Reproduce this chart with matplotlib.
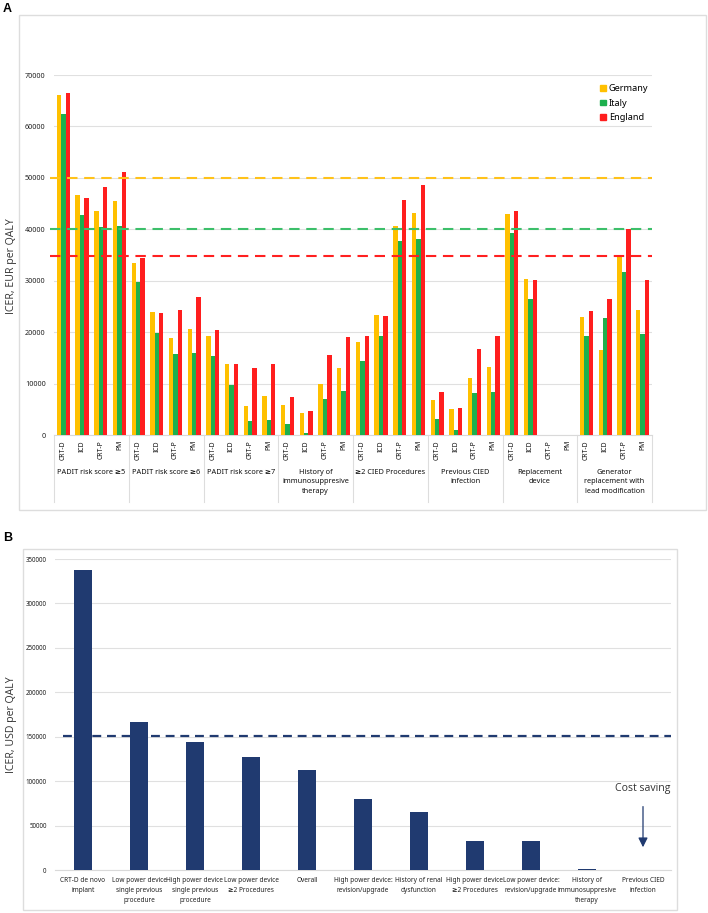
import matplotlib
matplotlib.use('Agg')
import matplotlib.pyplot as plt
import matplotlib.transforms as mtransforms
from matplotlib.patches import Patch, Rectangle
from matplotlib.lines import Line2D
import numpy as np

W, H = 708, 913
BOLD = ['Noto Sans', 'DejaVu Sans']
REG = ['Open Sans', 'DejaVu Sans']

# ---- panel A data (ICER, EUR per QALY) ----
groups = ['PADIT risk score \u22655', 'PADIT risk score \u22656', 'PADIT risk score \u22657',
          'History of\nimmunosuppresive\ntherapy', '\u22652 CIED Procedures',
          'Previous CIED\ninfection', 'Replacement\ndevice',
          'Generator\nreplacement with\nlead modification']
devices = ['CRT-D', 'ICD', 'CRT-P', 'PM']
countries = ['Germany', 'Italy', 'England']
germany = [66100, 46700, 43500, 45500,
           33500, 23900, 18800, 20700,
           19200, 13800, 5700, 7600,
           5800, 4300, 9900, 13100,
           18100, 23300, 40700, 43200,
           6900, 5100, 11100, 13200,
           42900, 30400, 0, 0,
           23000, 16600, 34700, 24400]
italy = [62400, 42800, 40500, 40700,
         29700, 19900, 15800, 16000,
         15400, 9700, 2700, 2900,
         2100, 400, 7000, 8600,
         14400, 19200, 37700, 38200,
         3100, 1000, 8100, 8300,
         39200, 26400, 0, 0,
         19200, 22800, 31700, 19700]
england = [66500, 46100, 48300, 51100,
           34500, 23700, 24300, 26800,
           20500, 13800, 13100, 13800,
           7300, 4700, 15500, 19100,
           19300, 23200, 45700, 48700,
           8300, 5300, 16800, 19300,
           43600, 30100, 0, 0,
           24200, 26500, 40000, 30100]
thresholds_a = [50000, 40000, 34800]
colors_a = ['#FFC000', '#1DB04E', '#FF1E1E']
dash_colors = ['#FFC21A', '#3CBF6A', '#FF2020']

# ---- panel B data (ICER, USD per QALY) ----
b_labels = ['CRT-D de novo\nimplant', 'Low power device\nsingle previous\nprocedure',
            'High power device\nsingle previous\nprocedure', 'Low power device\n\u22652 Procedures',
            'Overall', 'High power device:\nrevision/upgrade', 'History of renal\ndysfunction',
            'High power device\n\u22652 Procedures', 'Low power device:\nrevision/upgrade',
            'History of\nimmunosuppresive\ntherapy', 'Previous CIED\ninfection']
b_values = [337800, 166200, 144500, 127200, 112900, 80100, 65100, 32400, 32400, 1000, 0]
b_threshold = 151000
navy = '#203A70'


def fx(x):
    return x / W


def fy(y):
    return 1 - y / H


fig = plt.figure(figsize=(W / 100, H / 100), dpi=100)

# panel frames and letters
fig.patches.append(Rectangle((fx(19), fy(510)), fx(706) - fx(19), fy(15) - fy(510),
                             transform=fig.transFigure, fill=False, ec='#DDDDDD', lw=1))
fig.patches.append(Rectangle((fx(23), fy(910)), fx(677) - fx(23), fy(549) - fy(910),
                             transform=fig.transFigure, fill=False, ec='#DDDDDD', lw=1))
fig.text(fx(3), fy(9), 'A', fontsize=9, fontweight='bold', family=['Liberation Sans'], va='center')
fig.text(fx(3), fy(538), 'B', fontsize=9, fontweight='bold', family=['Liberation Sans'], va='center')

# ================= panel A =================
ax = fig.add_axes([fx(54), fy(435), fx(652) - fx(54), fy(75) - fy(435)])
n = len(germany)
x = np.arange(n) + 0.5
bw = 0.235
for k, (vals, c) in enumerate(zip([germany, italy, england], colors_a)):
    ax.bar(x + (k - 1) * bw, vals, width=bw, color=c, zorder=3, linewidth=0)

for t, c in zip(thresholds_a, dash_colors):
    ax.plot([-0.2, n], [t, t], ls=(0, (5, 3.2)), color=c, lw=1.5, zorder=4, clip_on=False)

ax.set_xlim(0, n)
ax.set_ylim(0, 70000)
ax.set_yticks(np.arange(0, 70001, 10000))
ax.set_yticklabels([str(v) for v in range(0, 70001, 10000)], fontsize=5.2,
                   fontweight='bold', family=BOLD, color='#222222')
ax.tick_params(axis='y', length=0, pad=6)
ax.set_xticks([])
ax.grid(axis='y', color='#E0E0E0', lw=0.8, zorder=0)
for s in ['top', 'right', 'left']:
    ax.spines[s].set_visible(False)
ax.spines['bottom'].set_color('#D9D9D9')

trA = mtransforms.blended_transform_factory(ax.transData, fig.transFigure)
for g in range(len(groups) + 1):
    ax.add_line(Line2D([4 * g, 4 * g], [fy(435), fy(502)], transform=trA,
                       color='#DDDDDD', lw=0.8, clip_on=False))
for i in range(n):
    ax.text(x[i], fy(440), devices[i % 4], rotation=90, ha='center', va='top',
            fontsize=4.9, fontweight='bold', family=BOLD, color='#111111', transform=trA)
for g, name in enumerate(groups):
    ax.text(4 * g + 2, fy(469), name, ha='center', va='top', fontsize=5.3,
            fontweight='bold', family=BOLD, color='#111111', linespacing=1.45,
            transform=trA)

handles = [Patch(color=c) for c in colors_a]
fig.legend(handles, countries, loc='upper left', bbox_to_anchor=(fx(592), fy(76)),
           frameon=False, handlelength=0.6, handleheight=0.6, handletextpad=0.35,
           labelspacing=0.6, prop={'family': BOLD, 'weight': 'bold', 'size': 6.6})

fig.text(fx(12), fy(266), 'ICER, EUR per QALY', rotation=90, ha='center', va='center',
         fontsize=7.6, family=REG, color='#333333')

# ================= panel B =================
bx = fig.add_axes([fx(55), fy(870), fx(671) - fx(55), fy(559) - fy(870)])
xb = np.arange(len(b_values))
bx.bar(xb, b_values, width=0.33, color=navy, zorder=3, linewidth=0)
bx.plot([-0.35, len(b_values) - 0.5], [b_threshold, b_threshold], ls=(0, (4, 2.6)),
        color=navy, lw=1.6, zorder=4, clip_on=False)
bx.set_xlim(-0.5, len(b_values) - 0.5)
bx.set_ylim(0, 350000)
bx.set_yticks(np.arange(0, 350001, 50000))
bx.set_yticklabels([str(v) for v in range(0, 350001, 50000)], fontsize=4.5,
                   fontweight='bold', family=BOLD, color='#222222')
bx.tick_params(axis='y', length=0, pad=6)
bx.set_xticks([])
bx.grid(axis='y', color='#E0E0E0', lw=0.8, zorder=0)
for s in ['top', 'right', 'left']:
    bx.spines[s].set_visible(False)
bx.spines['bottom'].set_color('#D9D9D9')

trB = mtransforms.blended_transform_factory(bx.transData, fig.transFigure)
for i, lab in enumerate(b_labels):
    bx.text(xb[i], fy(877), lab, ha='center', va='top', fontsize=4.7, fontweight='bold',
            family=BOLD, color='#222222', linespacing=1.55, transform=trB)

last = len(b_values) - 1
bx.text(last, 92000, 'Cost saving', ha='center', va='center', fontsize=7.6,
        family=REG, color='#333333')
bx.annotate('', xy=(last, 22500), xytext=(last, 74500),
            arrowprops=dict(arrowstyle='-|>', color=navy, lw=0.9, mutation_scale=14))

fig.text(fx(12), fy(725), 'ICER, USD per QALY', rotation=90, ha='center', va='center',
         fontsize=7.6, family=REG, color='#333333')

fig.savefig('out.png', dpi=100)
